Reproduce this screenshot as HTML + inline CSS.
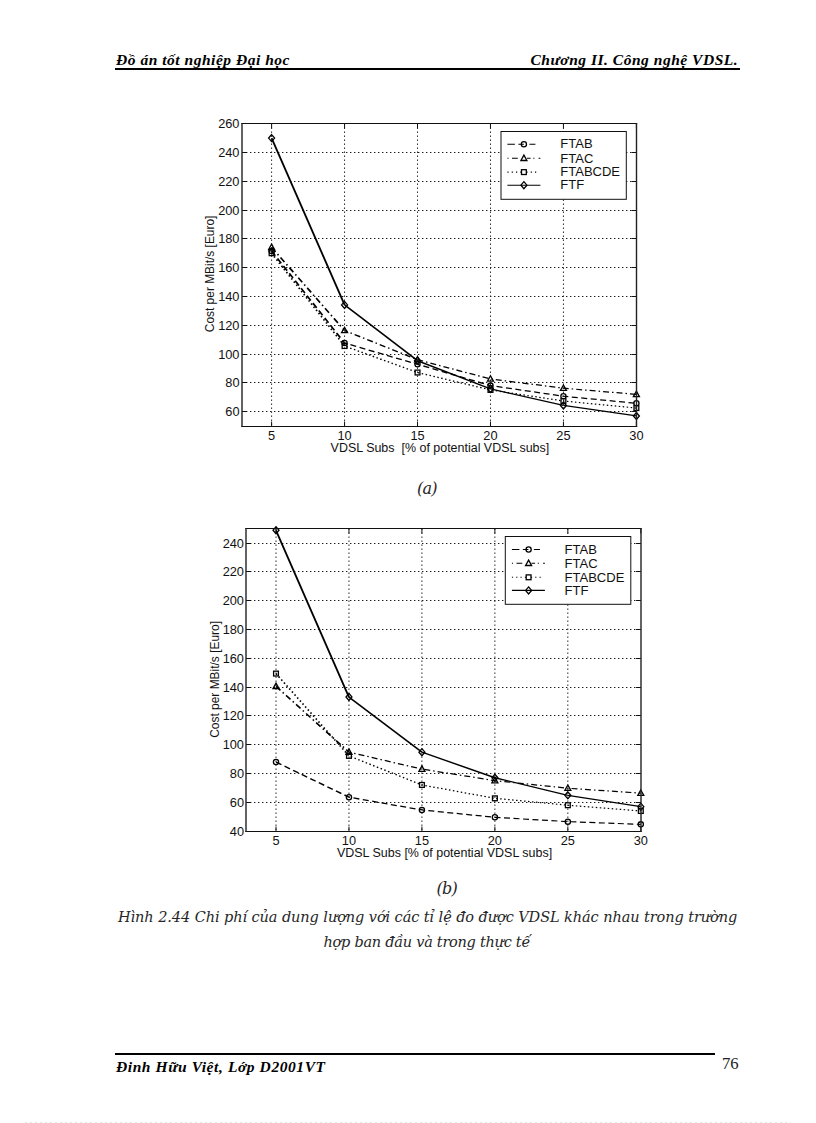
<!DOCTYPE html>
<html><head><meta charset="utf-8"><title>Đồ án tốt nghiệp Đại học</title>
<style>
html,body{margin:0;padding:0;background:#fff;}
body{width:816px;height:1123px;position:relative;overflow:hidden;}
.t{position:absolute;white-space:nowrap;color:#000;line-height:1;}
.hd{font:italic bold 15.5px "Liberation Serif",serif;letter-spacing:0.52px;}
.cap{font:italic 14.5px "DejaVu Serif","Liberation Serif",serif;color:#262626;}
.rule{position:absolute;background:#000;}
svg{position:absolute;left:0;top:0;}
svg text{font-family:"Liberation Sans",Arial,sans-serif;fill:#111;}
.tk{font-size:12.8px;}
.lg{font-size:13px;}
.al{font-size:12.3px;}
</style></head><body>
<div class="t hd" id="h1" style="left:116px;top:51px;">Đồ án tốt nghiệp Đại học</div>
<div class="t hd" id="h2" style="right:77.8px;top:51px;">Chương II. Công nghệ VDSL.</div>
<div class="rule" style="left:115px;top:68px;width:625px;height:2px;"></div>
<svg width="816" height="1123" viewBox="0 0 816 1123">
<line x1="271.6" y1="123.5" x2="271.6" y2="426.5" stroke="#1a1a1a" stroke-width="1" stroke-dasharray="1.4 2.6"/>
<line x1="344.56" y1="123.5" x2="344.56" y2="426.5" stroke="#1a1a1a" stroke-width="1" stroke-dasharray="1.4 2.6"/>
<line x1="417.52" y1="123.5" x2="417.52" y2="426.5" stroke="#1a1a1a" stroke-width="1" stroke-dasharray="1.4 2.6"/>
<line x1="490.48" y1="123.5" x2="490.48" y2="426.5" stroke="#1a1a1a" stroke-width="1" stroke-dasharray="1.4 2.6"/>
<line x1="563.44" y1="123.5" x2="563.44" y2="426.5" stroke="#1a1a1a" stroke-width="1" stroke-dasharray="1.4 2.6"/>
<line x1="242" y1="411.5" x2="636.5" y2="411.5" stroke="#1a1a1a" stroke-width="1" stroke-dasharray="1.4 2.6"/>
<line x1="242" y1="382.5" x2="636.5" y2="382.5" stroke="#1a1a1a" stroke-width="1" stroke-dasharray="1.4 2.6"/>
<line x1="242" y1="354.5" x2="636.5" y2="354.5" stroke="#1a1a1a" stroke-width="1" stroke-dasharray="1.4 2.6"/>
<line x1="242" y1="325.5" x2="636.5" y2="325.5" stroke="#1a1a1a" stroke-width="1" stroke-dasharray="1.4 2.6"/>
<line x1="242" y1="296.5" x2="636.5" y2="296.5" stroke="#1a1a1a" stroke-width="1" stroke-dasharray="1.4 2.6"/>
<line x1="242" y1="267.5" x2="636.5" y2="267.5" stroke="#1a1a1a" stroke-width="1" stroke-dasharray="1.4 2.6"/>
<line x1="242" y1="238.5" x2="636.5" y2="238.5" stroke="#1a1a1a" stroke-width="1" stroke-dasharray="1.4 2.6"/>
<line x1="242" y1="210.5" x2="636.5" y2="210.5" stroke="#1a1a1a" stroke-width="1" stroke-dasharray="1.4 2.6"/>
<line x1="242" y1="181.5" x2="636.5" y2="181.5" stroke="#1a1a1a" stroke-width="1" stroke-dasharray="1.4 2.6"/>
<line x1="242" y1="152.5" x2="636.5" y2="152.5" stroke="#1a1a1a" stroke-width="1" stroke-dasharray="1.4 2.6"/>
<path d="M271.6 426.5v-5M271.6 123.5v5M344.56 426.5v-5M344.56 123.5v5M417.52 426.5v-5M417.52 123.5v5M490.48 426.5v-5M490.48 123.5v5M563.44 426.5v-5M563.44 123.5v5M636.4 426.5v-5M636.4 123.5v5M242 411.5h5M636.5 411.5h-5M242 382.5h5M636.5 382.5h-5M242 354.5h5M636.5 354.5h-5M242 325.5h5M636.5 325.5h-5M242 296.5h5M636.5 296.5h-5M242 267.5h5M636.5 267.5h-5M242 238.5h5M636.5 238.5h-5M242 210.5h5M636.5 210.5h-5M242 181.5h5M636.5 181.5h-5M242 152.5h5M636.5 152.5h-5M242 123.5h5M636.5 123.5h-5" stroke="#111" stroke-width="1" fill="none"/>
<line x1="271.6" y1="251.06" x2="344.56" y2="343.01" stroke="#000" stroke-width="1.7" stroke-dasharray="6 3.5" stroke-dashoffset="0"/>
<line x1="344.56" y1="343.01" x2="417.52" y2="364.3" stroke="#000" stroke-width="1.35" stroke-dasharray="6 3.5" stroke-dashoffset="117.38"/>
<line x1="417.52" y1="364.3" x2="490.48" y2="385.6" stroke="#000" stroke-width="1.35" stroke-dasharray="6 3.5" stroke-dashoffset="193.38"/>
<line x1="490.48" y1="385.6" x2="563.44" y2="396.25" stroke="#000" stroke-width="1.25" stroke-dasharray="6 3.5" stroke-dashoffset="269.38"/>
<line x1="563.44" y1="396.25" x2="636.4" y2="403.3" stroke="#000" stroke-width="1.22" stroke-dasharray="6 3.5" stroke-dashoffset="343.12"/>
<circle cx="271.6" cy="251.06" r="2.6" fill="none" stroke="#000" stroke-width="1.3"/>
<circle cx="344.56" cy="343.01" r="2.6" fill="none" stroke="#000" stroke-width="1.3"/>
<circle cx="417.52" cy="364.3" r="2.6" fill="none" stroke="#000" stroke-width="1.3"/>
<circle cx="490.48" cy="385.6" r="2.6" fill="none" stroke="#000" stroke-width="1.3"/>
<circle cx="563.44" cy="396.25" r="2.6" fill="none" stroke="#000" stroke-width="1.3"/>
<circle cx="636.4" cy="403.3" r="2.6" fill="none" stroke="#000" stroke-width="1.3"/>
<line x1="271.6" y1="247.32" x2="344.56" y2="330.49" stroke="#000" stroke-width="1.68" stroke-dasharray="6 3 1.5 3" stroke-dashoffset="0"/>
<line x1="344.56" y1="330.49" x2="417.52" y2="359.7" stroke="#000" stroke-width="1.41" stroke-dasharray="6 3 1.5 3" stroke-dashoffset="110.63"/>
<line x1="417.52" y1="359.7" x2="490.48" y2="378.98" stroke="#000" stroke-width="1.33" stroke-dasharray="6 3 1.5 3" stroke-dashoffset="189.22"/>
<line x1="490.48" y1="378.98" x2="563.44" y2="388.19" stroke="#000" stroke-width="1.24" stroke-dasharray="6 3 1.5 3" stroke-dashoffset="264.69"/>
<line x1="563.44" y1="388.19" x2="636.4" y2="394.38" stroke="#000" stroke-width="1.21" stroke-dasharray="6 3 1.5 3" stroke-dashoffset="338.23"/>
<path d="M271.6 244.12L274.6 249.52H268.6Z" fill="none" stroke="#000" stroke-width="1.3"/>
<path d="M344.56 327.29L347.56 332.69H341.56Z" fill="none" stroke="#000" stroke-width="1.3"/>
<path d="M417.52 356.5L420.52 361.9H414.52Z" fill="none" stroke="#000" stroke-width="1.3"/>
<path d="M490.48 375.78L493.48 381.18H487.48Z" fill="none" stroke="#000" stroke-width="1.3"/>
<path d="M563.44 384.99L566.44 390.39H560.44Z" fill="none" stroke="#000" stroke-width="1.3"/>
<path d="M636.4 391.18L639.4 396.58H633.4Z" fill="none" stroke="#000" stroke-width="1.3"/>
<line x1="271.6" y1="253.22" x2="344.56" y2="346.03" stroke="#000" stroke-width="1.7" stroke-dasharray="1.5 2.5" stroke-dashoffset="0"/>
<line x1="344.56" y1="346.03" x2="417.52" y2="372.51" stroke="#000" stroke-width="1.39" stroke-dasharray="1.5 2.5" stroke-dashoffset="118.05"/>
<line x1="417.52" y1="372.51" x2="490.48" y2="389.92" stroke="#000" stroke-width="1.31" stroke-dasharray="1.5 2.5" stroke-dashoffset="195.67"/>
<line x1="490.48" y1="389.92" x2="563.44" y2="401" stroke="#000" stroke-width="1.26" stroke-dasharray="1.5 2.5" stroke-dashoffset="270.68"/>
<line x1="563.44" y1="401" x2="636.4" y2="408.05" stroke="#000" stroke-width="1.22" stroke-dasharray="1.5 2.5" stroke-dashoffset="344.47"/>
<rect x="269.2" y="250.82" width="4.8" height="4.8" fill="none" stroke="#000" stroke-width="1.3"/>
<rect x="342.16" y="343.63" width="4.8" height="4.8" fill="none" stroke="#000" stroke-width="1.3"/>
<rect x="415.12" y="370.11" width="4.8" height="4.8" fill="none" stroke="#000" stroke-width="1.3"/>
<rect x="488.08" y="387.52" width="4.8" height="4.8" fill="none" stroke="#000" stroke-width="1.3"/>
<rect x="561.04" y="398.6" width="4.8" height="4.8" fill="none" stroke="#000" stroke-width="1.3"/>
<rect x="634" y="405.65" width="4.8" height="4.8" fill="none" stroke="#000" stroke-width="1.3"/>
<line x1="271.6" y1="138.11" x2="344.56" y2="304.88" stroke="#000" stroke-width="1.84"/>
<line x1="344.56" y1="304.88" x2="417.52" y2="360.71" stroke="#000" stroke-width="1.63"/>
<line x1="417.52" y1="360.71" x2="490.48" y2="388.91" stroke="#000" stroke-width="1.45"/>
<line x1="490.48" y1="388.91" x2="563.44" y2="405.46" stroke="#000" stroke-width="1.35"/>
<line x1="563.44" y1="405.46" x2="636.4" y2="415.96" stroke="#000" stroke-width="1.3"/>
<path d="M271.6 134.61L274.6 138.11L271.6 141.61L268.6 138.11Z" fill="none" stroke="#000" stroke-width="1.3"/>
<path d="M344.56 301.38L347.56 304.88L344.56 308.38L341.56 304.88Z" fill="none" stroke="#000" stroke-width="1.3"/>
<path d="M417.52 357.21L420.52 360.71L417.52 364.21L414.52 360.71Z" fill="none" stroke="#000" stroke-width="1.3"/>
<path d="M490.48 385.41L493.48 388.91L490.48 392.41L487.48 388.91Z" fill="none" stroke="#000" stroke-width="1.3"/>
<path d="M563.44 401.96L566.44 405.46L563.44 408.96L560.44 405.46Z" fill="none" stroke="#000" stroke-width="1.3"/>
<path d="M636.4 412.46L639.4 415.96L636.4 419.46L633.4 415.96Z" fill="none" stroke="#000" stroke-width="1.3"/>
<path d="M241.3 123.5H637.2M241.3 426.5H637.2" stroke="#111" stroke-width="1" fill="none"/>
<path d="M242 123V427M636.5 123V427" stroke="#222" stroke-width="1.4" fill="none"/>
<rect x="501" y="131.5" width="125.3" height="67.8" fill="#fff" stroke="#111" stroke-width="1"/>
<path d="M507.4 144.2H514.9M518.4 144.2H523.9M529.4 144.2H535.4" stroke="#000" stroke-width="1.1" fill="none"/>
<circle cx="523.9" cy="144.2" r="2.6" fill="none" stroke="#000" stroke-width="1.3"/>
<text x="560.3" y="148.45" class="lg">FTAB</text>
<path d="M507.4 158.3H508.5M512 158.3H517.8M527 158.3H530.6M533.3 158.3H534.4M538.6 158.3H540.4" stroke="#000" stroke-width="1.1" fill="none"/>
<path d="M523.9 155.1L526.9 160.5H520.9Z" fill="none" stroke="#000" stroke-width="1.3"/>
<text x="560.3" y="162.55" class="lg">FTAC</text>
<path d="M507.4 172.1H508.6M511.7 172.1H512.9M516 172.1H517.2M520.3 172.1H521.5M526.4 172.1H527.6M530.7 172.1H531.9M535 172.1H536.2" stroke="#000" stroke-width="1.1" fill="none"/>
<rect x="521.5" y="169.7" width="4.8" height="4.8" fill="none" stroke="#000" stroke-width="1.3"/>
<text x="560.3" y="176.35" class="lg">FTABCDE</text>
<path d="M507.4 185.2H540.4" stroke="#000" stroke-width="1.1" fill="none"/>
<path d="M523.9 181.7L526.9 185.2L523.9 188.7L520.9 185.2Z" fill="none" stroke="#000" stroke-width="1.3"/>
<text x="560.3" y="189.45" class="lg">FTF</text>
<text x="271.6" y="440.3" class="tk" text-anchor="middle">5</text>
<text x="344.56" y="440.3" class="tk" text-anchor="middle">10</text>
<text x="417.52" y="440.3" class="tk" text-anchor="middle">15</text>
<text x="490.48" y="440.3" class="tk" text-anchor="middle">20</text>
<text x="563.44" y="440.3" class="tk" text-anchor="middle">25</text>
<text x="636.4" y="440.3" class="tk" text-anchor="middle">30</text>
<text x="239.5" y="416" class="tk" text-anchor="end">60</text>
<text x="239.5" y="387" class="tk" text-anchor="end">80</text>
<text x="239.5" y="359" class="tk" text-anchor="end">100</text>
<text x="239.5" y="330" class="tk" text-anchor="end">120</text>
<text x="239.5" y="301" class="tk" text-anchor="end">140</text>
<text x="239.5" y="272" class="tk" text-anchor="end">160</text>
<text x="239.5" y="243" class="tk" text-anchor="end">180</text>
<text x="239.5" y="215" class="tk" text-anchor="end">200</text>
<text x="239.5" y="186" class="tk" text-anchor="end">220</text>
<text x="239.5" y="157" class="tk" text-anchor="end">240</text>
<text x="239.5" y="128" class="tk" text-anchor="end">260</text>
<text x="330.6" y="451.6" class="al" textLength="218.6" lengthAdjust="spacingAndGlyphs" xml:space="preserve">VDSL Subs  [% of potential VDSL subs]</text>
<text transform="translate(214 332.2) rotate(-90)" x="0" y="0" class="al" textLength="116.6" lengthAdjust="spacingAndGlyphs">Cost per MBit/s [Euro]</text>
<line x1="276" y1="528.5" x2="276" y2="831.5" stroke="#1a1a1a" stroke-width="1" stroke-dasharray="1.4 2.6"/>
<line x1="348.96" y1="528.5" x2="348.96" y2="831.5" stroke="#1a1a1a" stroke-width="1" stroke-dasharray="1.4 2.6"/>
<line x1="421.92" y1="528.5" x2="421.92" y2="831.5" stroke="#1a1a1a" stroke-width="1" stroke-dasharray="1.4 2.6"/>
<line x1="494.88" y1="528.5" x2="494.88" y2="831.5" stroke="#1a1a1a" stroke-width="1" stroke-dasharray="1.4 2.6"/>
<line x1="567.84" y1="528.5" x2="567.84" y2="831.5" stroke="#1a1a1a" stroke-width="1" stroke-dasharray="1.4 2.6"/>
<line x1="246" y1="802.5" x2="641" y2="802.5" stroke="#1a1a1a" stroke-width="1" stroke-dasharray="1.4 2.6"/>
<line x1="246" y1="773.5" x2="641" y2="773.5" stroke="#1a1a1a" stroke-width="1" stroke-dasharray="1.4 2.6"/>
<line x1="246" y1="744.5" x2="641" y2="744.5" stroke="#1a1a1a" stroke-width="1" stroke-dasharray="1.4 2.6"/>
<line x1="246" y1="715.5" x2="641" y2="715.5" stroke="#1a1a1a" stroke-width="1" stroke-dasharray="1.4 2.6"/>
<line x1="246" y1="687.5" x2="641" y2="687.5" stroke="#1a1a1a" stroke-width="1" stroke-dasharray="1.4 2.6"/>
<line x1="246" y1="658.5" x2="641" y2="658.5" stroke="#1a1a1a" stroke-width="1" stroke-dasharray="1.4 2.6"/>
<line x1="246" y1="629.5" x2="641" y2="629.5" stroke="#1a1a1a" stroke-width="1" stroke-dasharray="1.4 2.6"/>
<line x1="246" y1="600.5" x2="641" y2="600.5" stroke="#1a1a1a" stroke-width="1" stroke-dasharray="1.4 2.6"/>
<line x1="246" y1="571.5" x2="641" y2="571.5" stroke="#1a1a1a" stroke-width="1" stroke-dasharray="1.4 2.6"/>
<line x1="246" y1="543.5" x2="641" y2="543.5" stroke="#1a1a1a" stroke-width="1" stroke-dasharray="1.4 2.6"/>
<path d="M276 831.5v-5M276 528.5v5M348.96 831.5v-5M348.96 528.5v5M421.92 831.5v-5M421.92 528.5v5M494.88 831.5v-5M494.88 528.5v5M567.84 831.5v-5M567.84 528.5v5M640.8 831.5v-5M640.8 528.5v5M246 831.5h5M641 831.5h-5M246 802.5h5M641 802.5h-5M246 773.5h5M641 773.5h-5M246 744.5h5M641 744.5h-5M246 715.5h5M641 715.5h-5M246 687.5h5M641 687.5h-5M246 658.5h5M641 658.5h-5M246 629.5h5M641 629.5h-5M246 600.5h5M641 600.5h-5M246 571.5h5M641 571.5h-5M246 543.5h5M641 543.5h-5" stroke="#111" stroke-width="1" fill="none"/>
<line x1="276" y1="762.07" x2="348.96" y2="797.18" stroke="#000" stroke-width="1.45" stroke-dasharray="6 3.5" stroke-dashoffset="0"/>
<line x1="348.96" y1="797.18" x2="421.92" y2="809.98" stroke="#000" stroke-width="1.27" stroke-dasharray="6 3.5" stroke-dashoffset="80.97"/>
<line x1="421.92" y1="809.98" x2="494.88" y2="817.32" stroke="#000" stroke-width="1.22" stroke-dasharray="6 3.5" stroke-dashoffset="155.04"/>
<line x1="494.88" y1="817.32" x2="567.84" y2="821.64" stroke="#000" stroke-width="1.19" stroke-dasharray="6 3.5" stroke-dashoffset="228.37"/>
<line x1="567.84" y1="821.64" x2="640.8" y2="824.37" stroke="#000" stroke-width="1.18" stroke-dasharray="6 3.5" stroke-dashoffset="301.46"/>
<circle cx="276" cy="762.07" r="2.6" fill="none" stroke="#000" stroke-width="1.3"/>
<circle cx="348.96" cy="797.18" r="2.6" fill="none" stroke="#000" stroke-width="1.3"/>
<circle cx="421.92" cy="809.98" r="2.6" fill="none" stroke="#000" stroke-width="1.3"/>
<circle cx="494.88" cy="817.32" r="2.6" fill="none" stroke="#000" stroke-width="1.3"/>
<circle cx="567.84" cy="821.64" r="2.6" fill="none" stroke="#000" stroke-width="1.3"/>
<circle cx="640.8" cy="824.37" r="2.6" fill="none" stroke="#000" stroke-width="1.3"/>
<line x1="276" y1="686.38" x2="348.96" y2="752.14" stroke="#000" stroke-width="1.62" stroke-dasharray="6 3 1.5 3" stroke-dashoffset="0"/>
<line x1="348.96" y1="752.14" x2="421.92" y2="769.12" stroke="#000" stroke-width="1.31" stroke-dasharray="6 3 1.5 3" stroke-dashoffset="98.22"/>
<line x1="421.92" y1="769.12" x2="494.88" y2="780.63" stroke="#000" stroke-width="1.26" stroke-dasharray="6 3 1.5 3" stroke-dashoffset="173.13"/>
<line x1="494.88" y1="780.63" x2="567.84" y2="788.25" stroke="#000" stroke-width="1.22" stroke-dasharray="6 3 1.5 3" stroke-dashoffset="246.99"/>
<line x1="567.84" y1="788.25" x2="640.8" y2="793.15" stroke="#000" stroke-width="1.2" stroke-dasharray="6 3 1.5 3" stroke-dashoffset="320.35"/>
<path d="M276 683.18L279 688.58H273Z" fill="none" stroke="#000" stroke-width="1.3"/>
<path d="M348.96 748.94L351.96 754.34H345.96Z" fill="none" stroke="#000" stroke-width="1.3"/>
<path d="M421.92 765.92L424.92 771.32H418.92Z" fill="none" stroke="#000" stroke-width="1.3"/>
<path d="M494.88 777.43L497.88 782.83H491.88Z" fill="none" stroke="#000" stroke-width="1.3"/>
<path d="M567.84 785.05L570.84 790.45H564.84Z" fill="none" stroke="#000" stroke-width="1.3"/>
<path d="M640.8 789.95L643.8 795.35H637.8Z" fill="none" stroke="#000" stroke-width="1.3"/>
<line x1="276" y1="673.58" x2="348.96" y2="755.88" stroke="#000" stroke-width="1.67" stroke-dasharray="1.5 2.5" stroke-dashoffset="0"/>
<line x1="348.96" y1="755.88" x2="421.92" y2="784.95" stroke="#000" stroke-width="1.41" stroke-dasharray="1.5 2.5" stroke-dashoffset="109.99"/>
<line x1="421.92" y1="784.95" x2="494.88" y2="798.33" stroke="#000" stroke-width="1.28" stroke-dasharray="1.5 2.5" stroke-dashoffset="188.52"/>
<line x1="494.88" y1="798.33" x2="567.84" y2="805.23" stroke="#000" stroke-width="1.22" stroke-dasharray="1.5 2.5" stroke-dashoffset="262.7"/>
<line x1="567.84" y1="805.23" x2="640.8" y2="810.99" stroke="#000" stroke-width="1.21" stroke-dasharray="1.5 2.5" stroke-dashoffset="335.99"/>
<rect x="273.6" y="671.18" width="4.8" height="4.8" fill="none" stroke="#000" stroke-width="1.3"/>
<rect x="346.56" y="753.48" width="4.8" height="4.8" fill="none" stroke="#000" stroke-width="1.3"/>
<rect x="419.52" y="782.55" width="4.8" height="4.8" fill="none" stroke="#000" stroke-width="1.3"/>
<rect x="492.48" y="795.93" width="4.8" height="4.8" fill="none" stroke="#000" stroke-width="1.3"/>
<rect x="565.44" y="802.83" width="4.8" height="4.8" fill="none" stroke="#000" stroke-width="1.3"/>
<rect x="638.4" y="808.59" width="4.8" height="4.8" fill="none" stroke="#000" stroke-width="1.3"/>
<line x1="276" y1="530.26" x2="348.96" y2="697.03" stroke="#000" stroke-width="1.84"/>
<line x1="348.96" y1="697.03" x2="421.92" y2="752.14" stroke="#000" stroke-width="1.62"/>
<line x1="421.92" y1="752.14" x2="494.88" y2="777.75" stroke="#000" stroke-width="1.43"/>
<line x1="494.88" y1="777.75" x2="567.84" y2="795.31" stroke="#000" stroke-width="1.36"/>
<line x1="567.84" y1="795.31" x2="640.8" y2="806.67" stroke="#000" stroke-width="1.31"/>
<path d="M276 526.76L279 530.26L276 533.76L273 530.26Z" fill="none" stroke="#000" stroke-width="1.3"/>
<path d="M348.96 693.53L351.96 697.03L348.96 700.53L345.96 697.03Z" fill="none" stroke="#000" stroke-width="1.3"/>
<path d="M421.92 748.64L424.92 752.14L421.92 755.64L418.92 752.14Z" fill="none" stroke="#000" stroke-width="1.3"/>
<path d="M494.88 774.25L497.88 777.75L494.88 781.25L491.88 777.75Z" fill="none" stroke="#000" stroke-width="1.3"/>
<path d="M567.84 791.81L570.84 795.31L567.84 798.81L564.84 795.31Z" fill="none" stroke="#000" stroke-width="1.3"/>
<path d="M640.8 803.17L643.8 806.67L640.8 810.17L637.8 806.67Z" fill="none" stroke="#000" stroke-width="1.3"/>
<path d="M245.3 528.5H641.7M245.3 831.5H641.7" stroke="#111" stroke-width="1" fill="none"/>
<path d="M246 528V832M641 528V832" stroke="#222" stroke-width="1.4" fill="none"/>
<rect x="505.3" y="536.5" width="125.5" height="67.8" fill="#fff" stroke="#111" stroke-width="1"/>
<path d="M511.9 549.5H519.4M522.9 549.5H528.4M533.9 549.5H539.9" stroke="#000" stroke-width="1.1" fill="none"/>
<circle cx="528.6" cy="549.5" r="2.6" fill="none" stroke="#000" stroke-width="1.3"/>
<text x="564.6" y="553.75" class="lg">FTAB</text>
<path d="M511.9 563.3H513M516.5 563.3H522.3M531.5 563.3H535.1M537.8 563.3H538.9M543.1 563.3H544.9" stroke="#000" stroke-width="1.1" fill="none"/>
<path d="M528.6 560.1L531.6 565.5H525.6Z" fill="none" stroke="#000" stroke-width="1.3"/>
<text x="564.6" y="567.55" class="lg">FTAC</text>
<path d="M511.9 577.3H513.1M516.2 577.3H517.4M520.5 577.3H521.7M524.8 577.3H526M530.9 577.3H532.1M535.2 577.3H536.4M539.5 577.3H540.7" stroke="#000" stroke-width="1.1" fill="none"/>
<rect x="526.2" y="574.9" width="4.8" height="4.8" fill="none" stroke="#000" stroke-width="1.3"/>
<text x="564.6" y="581.55" class="lg">FTABCDE</text>
<path d="M511.9 590.4H544.9" stroke="#000" stroke-width="1.1" fill="none"/>
<path d="M528.6 586.9L531.6 590.4L528.6 593.9L525.6 590.4Z" fill="none" stroke="#000" stroke-width="1.3"/>
<text x="564.6" y="594.65" class="lg">FTF</text>
<text x="276" y="845.3" class="tk" text-anchor="middle">5</text>
<text x="348.96" y="845.3" class="tk" text-anchor="middle">10</text>
<text x="421.92" y="845.3" class="tk" text-anchor="middle">15</text>
<text x="494.88" y="845.3" class="tk" text-anchor="middle">20</text>
<text x="567.84" y="845.3" class="tk" text-anchor="middle">25</text>
<text x="640.8" y="845.3" class="tk" text-anchor="middle">30</text>
<text x="244" y="836" class="tk" text-anchor="end">40</text>
<text x="244" y="807" class="tk" text-anchor="end">60</text>
<text x="244" y="778" class="tk" text-anchor="end">80</text>
<text x="244" y="749" class="tk" text-anchor="end">100</text>
<text x="244" y="720" class="tk" text-anchor="end">120</text>
<text x="244" y="692" class="tk" text-anchor="end">140</text>
<text x="244" y="663" class="tk" text-anchor="end">160</text>
<text x="244" y="634" class="tk" text-anchor="end">180</text>
<text x="244" y="605" class="tk" text-anchor="end">200</text>
<text x="244" y="576" class="tk" text-anchor="end">220</text>
<text x="244" y="548" class="tk" text-anchor="end">240</text>
<text x="337" y="856.8" class="al" textLength="215.1" lengthAdjust="spacingAndGlyphs" xml:space="preserve">VDSL Subs [% of potential VDSL subs]</text>
<text transform="translate(218.9 737.8) rotate(-90)" x="0" y="0" class="al" textLength="116.8" lengthAdjust="spacingAndGlyphs">Cost per MBit/s [Euro]</text>
</svg>
<div class="t cap" id="ca" style="left:417px;top:478.5px;font-size:16px;letter-spacing:-0.8px;">(a)</div>
<div class="t cap" id="cb" style="left:436.5px;top:879px;font-size:16px;letter-spacing:-0.8px;">(b)</div>
<div class="t cap" id="c1" style="left:118px;top:909px;letter-spacing:-0.083px;">Hình 2.44 Chi phí của dung lượng với các tỉ lệ đo được VDSL khác nhau trong trường</div>
<div class="t cap" id="c2" style="left:323.5px;top:934px;letter-spacing:-0.27px;">hợp ban đầu và trong thực tế</div>
<div class="rule" style="left:115px;top:1053px;width:600px;height:2px;"></div>
<div class="t hd" id="f1" style="left:116px;top:1058px;letter-spacing:0.58px;">Đinh Hữu Việt, Lớp D2001VT</div>
<div class="t" id="pn" style="left:722px;top:1054px;font:16.7px 'Liberation Serif',serif;color:#222;">76</div>
<div style="position:absolute;left:25px;top:1122px;width:766px;height:1px;background:repeating-linear-gradient(90deg,#e6e6e6 0 2px,transparent 2px 5px);"></div>
</body></html>
